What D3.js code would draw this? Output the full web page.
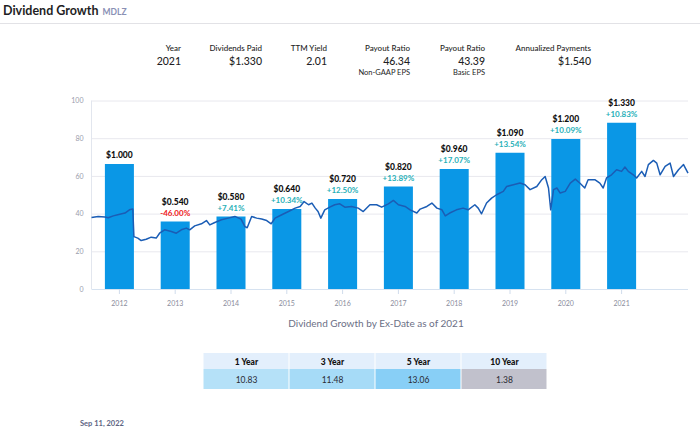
<!DOCTYPE html>
<html>
<head>
<meta charset="utf-8">
<script src="https://cdn.jsdelivr.net/npm/d3@7"></script>
<style>
  html, body { margin: 0; padding: 0; background: #fff; }
  svg { display: block; font-family: Lato, "Open Sans", sans-serif; }
</style>
</head>
<body>
<svg id="chart" width="700" height="436"></svg>
<script>
// ---------------- DATA ----------------
const years = [2012, 2013, 2014, 2015, 2016, 2017, 2018, 2019, 2020, 2021];
const dividends = [1.000, 0.540, 0.580, 0.640, 0.720, 0.820, 0.960, 1.090, 1.200, 1.330];
const growthPct = [null, -46.00, 7.41, 10.34, 12.50, 13.89, 17.07, 13.54, 10.09, 10.83];

// share price (decimal year, price)
const priceDates = [2012.00, 2012.12, 2012.24, 2012.30, 2012.39, 2012.47, 2012.60, 2012.68, 2012.74, 2012.76,
  2012.83, 2012.89, 2012.98, 2013.07, 2013.16, 2013.22, 2013.31, 2013.43, 2013.52, 2013.61,
  2013.70, 2013.76, 2013.85, 2013.97, 2014.06, 2014.12, 2014.21, 2014.33, 2014.45, 2014.57,
  2014.68, 2014.75, 2014.79, 2014.87, 2014.96, 2015.05, 2015.14, 2015.22, 2015.29, 2015.41,
  2015.53, 2015.65, 2015.74, 2015.81, 2015.89, 2015.95, 2016.01, 2016.06, 2016.11, 2016.18,
  2016.27, 2016.36, 2016.45, 2016.54, 2016.66, 2016.78, 2016.87, 2016.99, 2017.11, 2017.20,
  2017.32, 2017.41, 2017.50, 2017.62, 2017.71, 2017.83, 2017.89, 2018.01, 2018.10, 2018.19,
  2018.28, 2018.34, 2018.42, 2018.54, 2018.66, 2018.75, 2018.87, 2018.93, 2018.99, 2019.08,
  2019.17, 2019.26, 2019.38, 2019.44, 2019.56, 2019.68, 2019.77, 2019.86, 2019.98, 2020.07,
  2020.13, 2020.19, 2020.23, 2020.28, 2020.34, 2020.40, 2020.49, 2020.58, 2020.67, 2020.75,
  2020.84, 2020.90, 2021.02, 2021.11, 2021.17, 2021.23, 2021.32, 2021.41, 2021.50, 2021.56,
  2021.62, 2021.71, 2021.77, 2021.86, 2021.92, 2021.98, 2022.07, 2022.13, 2022.19, 2022.28,
  2022.37, 2022.43, 2022.52, 2022.61, 2022.69];
const priceValues = [37.9, 38.5, 38.2, 37.8, 38.8, 39.4, 40.3, 42.0, 42.4, 27.8,
  27.0, 25.7, 26.4, 27.5, 27.0, 29.6, 31.4, 30.5, 29.6, 31.4,
  32.3, 31.4, 33.5, 34.6, 36.3, 34.0, 35.3, 36.7, 37.6, 38.5,
  37.1, 33.1, 32.5, 38.5, 37.6, 37.1, 36.3, 34.6, 37.6, 39.4,
  41.1, 42.9, 43.8, 46.4, 44.7, 45.6, 42.9, 41.1, 37.6, 42.0,
  43.4, 44.7, 45.2, 43.4, 43.8, 42.9, 41.1, 44.7, 44.7, 43.4,
  45.2, 47.0, 44.7, 43.8, 42.0, 40.3, 42.4, 43.8, 45.6, 42.9,
  42.0, 38.8, 40.3, 42.0, 42.9, 42.0, 44.7, 42.9, 39.9, 45.6,
  48.2, 50.0, 51.8, 54.4, 55.3, 56.2, 55.3, 52.7, 54.4, 58.0,
  59.7, 53.6, 42.0, 52.7, 53.6, 50.9, 51.8, 56.2, 58.3, 56.2,
  53.6, 58.0, 58.0, 56.2, 53.6, 58.9, 60.6, 63.3, 62.4, 64.7,
  62.4, 60.6, 58.9, 62.4, 59.7, 66.0, 68.2, 66.8, 60.6, 65.0,
  66.8, 59.7, 63.3, 66.0, 61.5];

const yTicks = [0, 20, 40, 60, 80, 100];

const statLabels = ["Year", "Dividends Paid", "TTM Yield", "Payout Ratio", "Payout Ratio", "Annualized Payments"];
const statValues = ["2021", "$1.330", "2.01", "46.34", "43.39", "$1.540"];
const statSubs = ["", "", "", "Non-GAAP EPS", "Basic EPS", ""];

const periodLabels = ["1 Year", "3 Year", "5 Year", "10 Year"];
const periodValues = ["10.83", "11.48", "13.06", "1.38"];

const titleText = "Dividend Growth";
const tickerText = "MDLZ";
const subtitleText = "Dividend Growth by Ex-Date as of 2021";
const dateText = "Sep 11, 2022";

// ---------------- DRAW ----------------
const svg = d3.select("#chart");

// Title
svg.append("text").attr("x", 3).attr("y", 14.5)
  .attr("font-size", 12.5).attr("font-weight", 700).attr("fill", "#1e1e24")
  .text(titleText)
  .append("tspan").attr("dx", 4).attr("font-size", 8.5).attr("font-weight", 700)
  .attr("fill", "#8a90b5").text(tickerText);
svg.append("line").attr("x1", 0).attr("x2", 700).attr("y1", 23.5).attr("y2", 23.5)
  .attr("stroke", "#e2e2e6").attr("stroke-width", 1);

// Stats header
const statRight = [181, 262, 327, 410, 485, 591];
const stats = svg.append("g");
statLabels.forEach((l, i) => {
  stats.append("text").attr("x", statRight[i]).attr("y", 50.5).attr("text-anchor", "end")
    .attr("font-size", 8).attr("font-weight", 500).attr("fill", "#1e1e24").text(l);
  stats.append("text").attr("x", statRight[i]).attr("y", 64.5).attr("text-anchor", "end")
    .attr("font-size", 10.5).attr("font-weight", 500).attr("fill", "#1e1e24").text(statValues[i]);
  if (statSubs[i]) stats.append("text").attr("x", statRight[i]).attr("y", 75).attr("text-anchor", "end")
    .attr("font-size", 7.5).attr("fill", "#1e1e24").text(statSubs[i]);
});

// Scales
const plotL = 91.5, plotR = 688, plotT = 100.5, plotB = 289;
const y = d3.scaleLinear().domain([0, 100]).range([plotB, plotT]);
const yDiv = d3.scaleLinear().domain([0, 1.5]).range([plotB, plotB - 187.5]);
const xBand = d3.scaleBand().domain(years).range([plotL, plotL + 55.8 * 10])
  .paddingInner(0.48).paddingOuter(0.24);
const xTime = d3.scaleLinear().domain([2012, 2022.69]).range([plotL, plotR]);

// gridlines
svg.append("g").selectAll("line").data(yTicks).join("line")
  .attr("x1", plotL).attr("x2", plotR)
  .attr("y1", d => y(d) + 0.5).attr("y2", d => y(d) + 0.5)
  .attr("stroke", d => d === 0 ? "#d6e2f0" : "#e8e8ee").attr("stroke-width", 1);
svg.append("line").attr("x1", plotL).attr("x2", plotL).attr("y1", plotT).attr("y2", plotB)
  .attr("stroke", "#e2e6ee");

// y axis labels
const yAxis = d3.axisLeft(y).tickValues(yTicks).tickSize(0).tickPadding(8);
const gy = svg.append("g").attr("transform", `translate(${plotL},0)`).call(yAxis);
gy.select(".domain").remove();
gy.selectAll("text").attr("font-size", 7).attr("fill", "#9a9cac").attr("font-family", "Lato, sans-serif");

// x axis
const xAxis = d3.axisBottom(xBand).tickSize(5).tickPadding(7);
const gx = svg.append("g").attr("transform", `translate(0,${plotB})`).call(xAxis);
gx.select(".domain").remove();
gx.selectAll("line").attr("stroke", "#d0dcec");
gx.selectAll("text").attr("font-size", 7).attr("fill", "#8a8c9c").attr("font-family", "Lato, sans-serif");

// bars
svg.append("g").selectAll("rect").data(years).join("rect")
  .attr("x", d => xBand(d)).attr("width", xBand.bandwidth())
  .attr("y", (d, i) => yDiv(dividends[i])).attr("height", (d, i) => plotB - yDiv(dividends[i]))
  .attr("fill", "#0a97e6");

// price line
const pts = priceDates.map((d, i) => [d, priceValues[i]]);
svg.append("path").datum(pts)
  .attr("d", d3.line().x(d => xTime(d[0])).y(d => y(d[1])))
  .attr("fill", "none").attr("stroke", "#1b5db5").attr("stroke-width", 1.5)
  .attr("stroke-linejoin", "round");

// bar labels
const lab = svg.append("g");
years.forEach((yr, i) => {
  const cx = xBand(yr) + xBand.bandwidth() / 2;
  const top = yDiv(dividends[i]);
  const hasPct = growthPct[i] !== null;
  lab.append("text").attr("x", cx).attr("y", top - (hasPct ? 17 : 6))
    .attr("text-anchor", "middle").attr("font-size", 8.5).attr("font-weight", 900)
    .attr("fill", "#111").text("$" + dividends[i].toFixed(3));
  if (hasPct) {
    const p = growthPct[i];
    lab.append("text").attr("x", cx).attr("y", top - 6)
      .attr("text-anchor", "middle").attr("font-size", 8).attr("font-weight", 700)
      .attr("fill", p < 0 ? "#f01818" : "#27b0b8")
      .text((p < 0 ? "" : "+") + p.toFixed(2) + "%");
  }
});

// subtitle
svg.append("text").attr("x", 376).attr("y", 327).attr("text-anchor", "middle")
  .attr("font-size", 10).attr("fill", "#6b6f85").text(subtitleText);

// table
const tblX = 203.5, colW = 86, hdrY = 353, hdrH = 16, valH = 20;
const valColors = ["#b5e1f8", "#a6dbf7", "#88cff6", "#c1c1cc"];
const tbl = svg.append("g");
periodLabels.forEach((l, i) => {
  const x0 = tblX + i * colW;
  tbl.append("rect").attr("x", x0).attr("y", hdrY).attr("width", colW - 1).attr("height", hdrH)
    .attr("fill", "#e3effc");
  tbl.append("rect").attr("x", x0).attr("y", hdrY + hdrH).attr("width", colW - 1).attr("height", valH)
    .attr("fill", valColors[i]);
  tbl.append("text").attr("x", x0 + colW / 2).attr("y", hdrY + 11.5).attr("text-anchor", "middle")
    .attr("font-size", 8.5).attr("font-weight", 900).attr("fill", "#111").text(l);
  tbl.append("text").attr("x", x0 + colW / 2).attr("y", hdrY + hdrH + 13.5).attr("text-anchor", "middle")
    .attr("font-size", 8.5).attr("fill", "#2a2a33").text(periodValues[i]);
});

// footer date
svg.append("text").attr("x", 80).attr("y", 426)
  .attr("font-size", 7.5).attr("font-weight", 700).attr("fill", "#5d6482").text(dateText);
</script>
</body>
</html>
